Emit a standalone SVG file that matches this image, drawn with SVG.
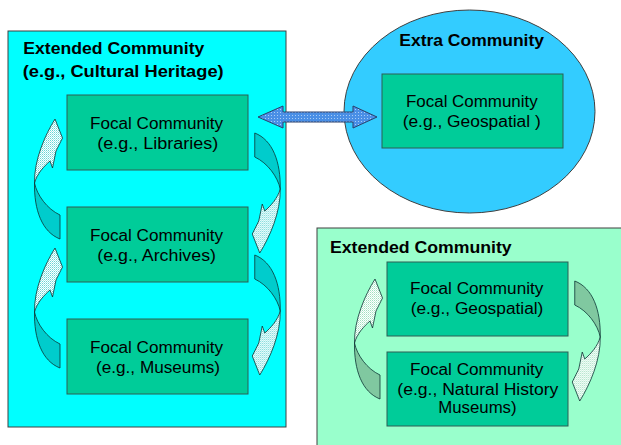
<svg xmlns="http://www.w3.org/2000/svg" xmlns:xlink="http://www.w3.org/1999/xlink" width="621" height="445" viewBox="0 0 621 445">
<style>
  .cont { stroke:#404040; stroke-width:1; }
  .focal { fill:#00CC99; stroke:#2E5E55; stroke-width:1; }
  .t { font-family:"Liberation Sans", Arial, sans-serif; font-size:16px; fill:#000; }
  .tb { font-family:"Liberation Sans", Arial, sans-serif; font-size:16px; font-weight:bold; fill:#000; }
  .arr { stroke:#0D3333; stroke-width:0.8; stroke-linejoin:round; }
  .solidC { fill:#00CCCC; }
  .dotC { fill:url(#dotsC); }
  .solidG { fill:#80C8A0; }
  .dotG { fill:url(#dotsG); }
  .dbl { fill:url(#dotsB); stroke:#2A3F6A; stroke-width:1; }
</style>
<defs>
  <pattern id="dotsC" patternUnits="userSpaceOnUse" width="2" height="2">
    <rect width="2" height="2" fill="#FFFFFF"/>
    <rect x="0" y="0" width="1" height="1" fill="#66D6D6"/>
    <rect x="1" y="1" width="1" height="1" fill="#A6ECEC"/>
  </pattern>
  <pattern id="dotsG" patternUnits="userSpaceOnUse" width="2" height="2">
    <rect width="2" height="2" fill="#FFFFFF"/>
    <rect x="0" y="0" width="1" height="1" fill="#A0E0C0"/>
    <rect x="1" y="1" width="1" height="1" fill="#CCF2DF"/>
  </pattern>
  <pattern id="dotsB" patternUnits="userSpaceOnUse" width="3" height="3">
    <rect width="3" height="3" fill="#4A8FE6"/>
    <rect x="1" y="1" width="1" height="1" fill="#A8CCF5"/>
  </pattern>
  <path id="lobeSolid" d="M34.5,183 C34,210 42,232 60,239 L60,215 C47,209 37,195 34.5,183 Z"/>
  <path id="lobeHead" d="M34.5,183 C34,160 45,135 55,119 L62.5,138 L56,151 L52.5,168 L50,161 C44,166 37,174 34.5,183 Z"/>
</defs>

<g id="extended-cultural">
  <rect class="cont" x="8" y="31" width="278" height="396" fill="#00FFFF"/>
  <text class="tb" x="23.3" y="54" textLength="181" lengthAdjust="spacingAndGlyphs">Extended Community</text>
  <text class="tb" x="22.7" y="77" textLength="201" lengthAdjust="spacingAndGlyphs">(e.g., Cultural Heritage)</text>
</g>

<g id="extra-community">
  <ellipse class="cont" cx="469.5" cy="111.5" rx="125.5" ry="101.5" fill="#33CCFF"/>
  <text class="tb" x="399.3" y="45.7" textLength="144.7" lengthAdjust="spacingAndGlyphs">Extra Community</text>
</g>

<g id="extended-community">
  <rect class="cont" x="317" y="228" width="310" height="230" fill="#99FFCC"/>
  <text class="tb" x="330" y="252.7" textLength="181.7" lengthAdjust="spacingAndGlyphs">Extended Community</text>
</g>

<g id="focal-libraries">
  <rect class="focal" x="67" y="95" width="181" height="75"/>
  <text class="t" x="90" y="129" textLength="133" lengthAdjust="spacingAndGlyphs">Focal Community</text>
  <text class="t" x="97.3" y="148.5" textLength="121" lengthAdjust="spacingAndGlyphs">(e.g., Libraries)</text>
</g>

<g id="focal-archives">
  <rect class="focal" x="67" y="207" width="181" height="75"/>
  <text class="t" x="90" y="240.7" textLength="133" lengthAdjust="spacingAndGlyphs">Focal Community</text>
  <text class="t" x="97.3" y="260.7" textLength="118.7" lengthAdjust="spacingAndGlyphs">(e.g., Archives)</text>
</g>

<g id="focal-museums">
  <rect class="focal" x="67" y="319" width="181" height="75"/>
  <text class="t" x="90" y="352.7" textLength="133" lengthAdjust="spacingAndGlyphs">Focal Community</text>
  <text class="t" x="96" y="372.7" textLength="124" lengthAdjust="spacingAndGlyphs">(e.g., Museums)</text>
</g>

<g id="focal-geospatial-extra">
  <rect class="focal" x="382" y="74" width="181" height="74"/>
  <text class="t" x="406" y="107.3" textLength="131.7" lengthAdjust="spacingAndGlyphs">Focal Community</text>
  <text class="t" x="402.7" y="126.7" textLength="138" lengthAdjust="spacingAndGlyphs">(e.g., Geospatial )</text>
</g>

<g id="focal-geospatial">
  <rect class="focal" x="387" y="262" width="181" height="74"/>
  <text class="t" x="410" y="294" textLength="133.3" lengthAdjust="spacingAndGlyphs">Focal Community</text>
  <text class="t" x="410.7" y="314" textLength="132.7" lengthAdjust="spacingAndGlyphs">(e.g., Geospatial)</text>
</g>

<g id="focal-natural-history">
  <rect class="focal" x="387" y="352" width="181" height="74"/>
  <text class="t" x="410" y="375" textLength="133.3" lengthAdjust="spacingAndGlyphs">Focal Community</text>
  <text class="t" x="397.3" y="395" textLength="161" lengthAdjust="spacingAndGlyphs">(e.g., Natural History</text>
  <text class="t" x="438.3" y="413.3" textLength="78.3" lengthAdjust="spacingAndGlyphs">Museums)</text>
</g>

<g id="connectors">
  <!-- cyan: left side, upward -->
  <g class="arr">
    <use xlink:href="#lobeSolid" class="solidC"/>
    <use xlink:href="#lobeHead" class="dotC"/>
  </g>
  <g class="arr" transform="translate(0,129)">
    <use xlink:href="#lobeSolid" class="solidC"/>
    <use xlink:href="#lobeHead" class="dotC"/>
  </g>
  <!-- cyan: right side, downward -->
  <g class="arr" transform="translate(314.75,372) scale(-1,-1)">
    <use xlink:href="#lobeSolid" class="solidC"/>
    <use xlink:href="#lobeHead" class="dotC"/>
  </g>
  <g class="arr" transform="translate(314.75,494) scale(-1,-1)">
    <use xlink:href="#lobeSolid" class="solidC"/>
    <use xlink:href="#lobeHead" class="dotC"/>
  </g>
  <!-- green -->
  <g class="arr" transform="translate(320,160)">
    <use xlink:href="#lobeSolid" class="solidG"/>
    <use xlink:href="#lobeHead" class="dotG"/>
  </g>
  <g class="arr" transform="translate(634.75,520) scale(-1,-1)">
    <use xlink:href="#lobeSolid" class="solidG"/>
    <use xlink:href="#lobeHead" class="dotG"/>
  </g>
  <!-- double arrow -->
  <path class="dbl" d="M258,117 L283,106 L283,112 L353,112 L353,106 L377,117 L353,128 L353,122 L283,122 L283,128 Z"/>
</g>
</svg>
